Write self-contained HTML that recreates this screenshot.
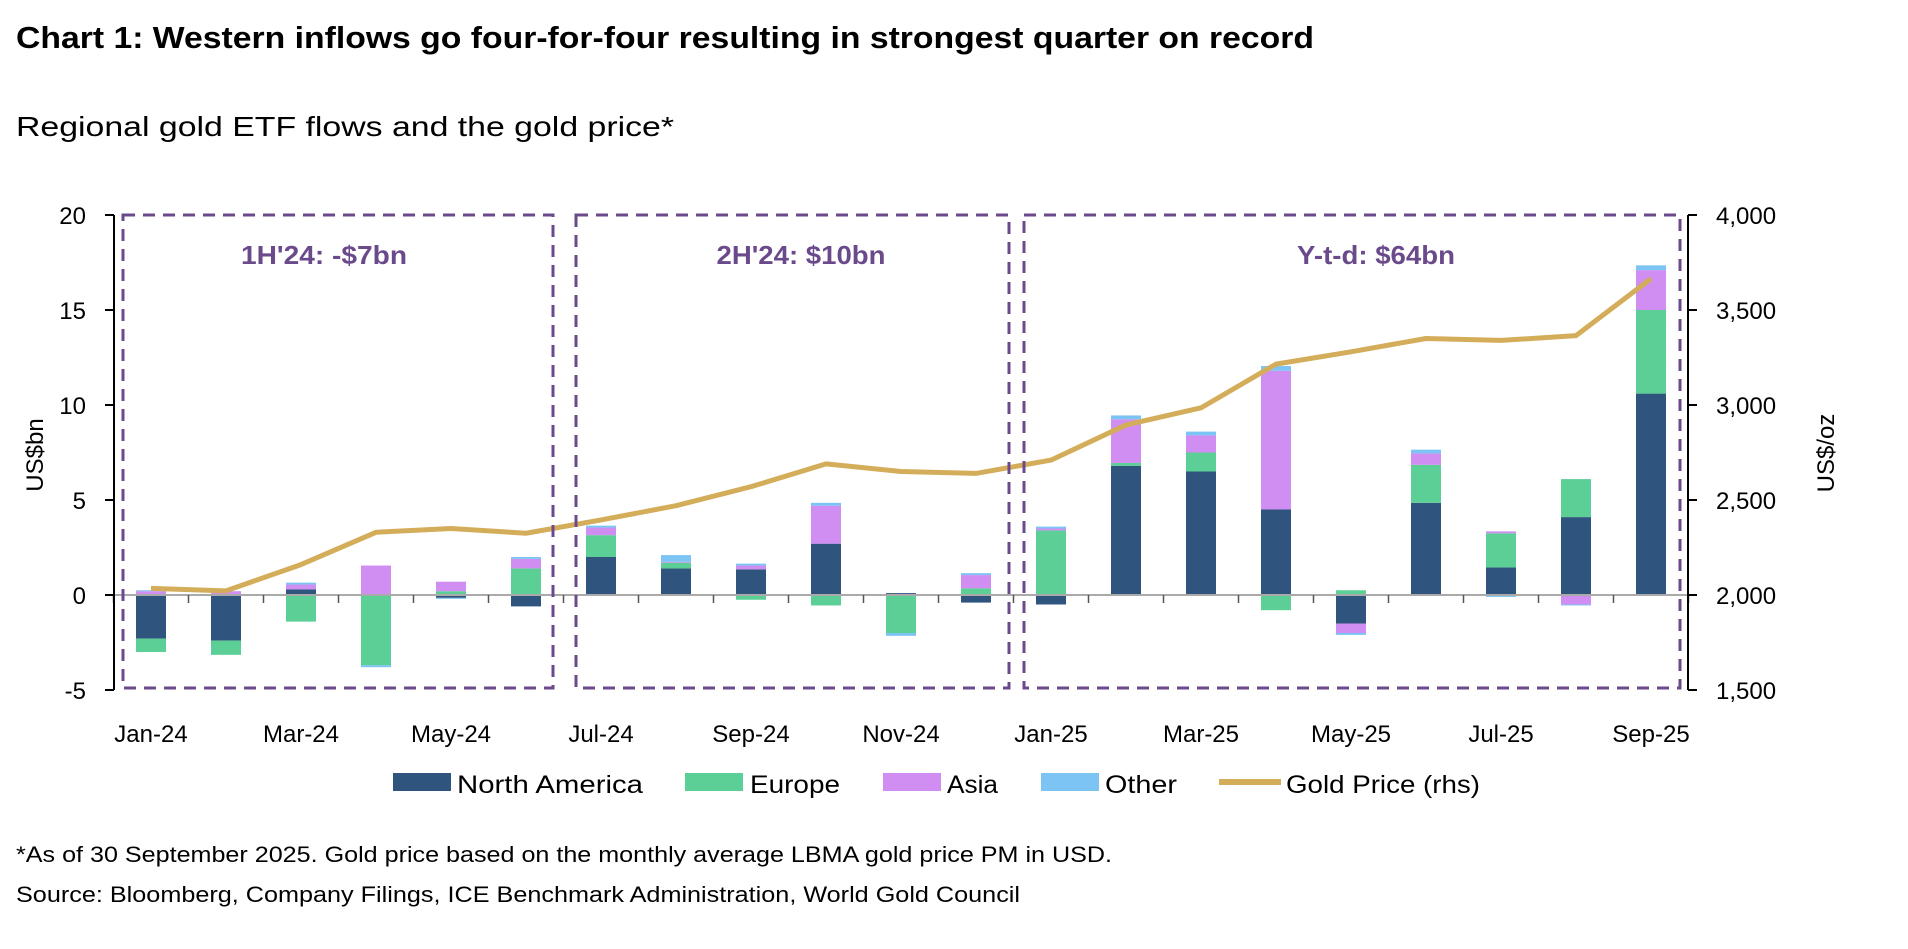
<!DOCTYPE html>
<html><head><meta charset="utf-8"><style>
body{margin:0;background:#fff;width:1908px;height:944px;overflow:hidden;font-family:"Liberation Sans",sans-serif;}
</style></head><body>
<svg width="1908" height="944" viewBox="0 0 1908 944" xmlns="http://www.w3.org/2000/svg" font-family="Liberation Sans, sans-serif">
<text x="16" y="48" font-size="31" font-weight="bold" fill="#000" textLength="1298" lengthAdjust="spacingAndGlyphs">Chart 1: Western inflows go four-for-four resulting in strongest quarter on record</text>
<text x="16" y="136" font-size="28" fill="#000" textLength="658" lengthAdjust="spacingAndGlyphs">Regional gold ETF flows and the gold price*</text>
<g id="chart"></g>
<g font-size="24" fill="#000">
<text x="86" y="224" text-anchor="end">20</text>
<text x="86" y="319" text-anchor="end">15</text>
<text x="86" y="414" text-anchor="end">10</text>
<text x="86" y="509" text-anchor="end">5</text>
<text x="86" y="604" text-anchor="end">0</text>
<text x="86" y="699" text-anchor="end">-5</text>
<text x="1716" y="224">4,000</text>
<text x="1716" y="319">3,500</text>
<text x="1716" y="414">3,000</text>
<text x="1716" y="509">2,500</text>
<text x="1716" y="604">2,000</text>
<text x="1716" y="699">1,500</text>
<text transform="translate(43,455) rotate(-90)" text-anchor="middle">US$bn</text>
<text transform="translate(1834,453) rotate(-90)" text-anchor="middle">US$/oz</text>
</g>
<g font-size="24" fill="#000" text-anchor="middle" id="xl"></g>
<g font-size="26" font-weight="bold" fill="#6b4a8c" text-anchor="middle">
<text x="324" y="264" textLength="166" lengthAdjust="spacingAndGlyphs">1H'24: -$7bn</text>
<text x="801" y="264" textLength="169" lengthAdjust="spacingAndGlyphs">2H'24: $10bn</text>
<text x="1376" y="264" textLength="158" lengthAdjust="spacingAndGlyphs">Y-t-d: $64bn</text>
</g>
<g fill="none" stroke="#6b4a8c" stroke-width="3" stroke-dasharray="12,8">
<rect x="123" y="215" width="430" height="473"/>
<rect x="576" y="215" width="433" height="473"/>
<rect x="1024" y="215" width="656" height="473"/>
</g>
<g font-size="25" fill="#000">
<rect x="393" y="773" width="58" height="18" fill="#2f557f"/><text x="457" y="793" textLength="186" lengthAdjust="spacingAndGlyphs">North America</text>
<rect x="685" y="773" width="58" height="18" fill="#5ccf96"/><text x="750" y="793" textLength="90" lengthAdjust="spacingAndGlyphs">Europe</text>
<rect x="883" y="773" width="58" height="18" fill="#d08ef2"/><text x="947" y="793" textLength="51" lengthAdjust="spacingAndGlyphs">Asia</text>
<rect x="1041" y="773" width="58" height="18" fill="#7cc4f4"/><text x="1105" y="793" textLength="72" lengthAdjust="spacingAndGlyphs">Other</text>
<line x1="1219" y1="782" x2="1281" y2="782" stroke="#d4ad5a" stroke-width="6"/><text x="1286" y="793" textLength="194" lengthAdjust="spacingAndGlyphs">Gold Price (rhs)</text>
</g>
<text x="16" y="862" font-size="22" fill="#000" textLength="1096" lengthAdjust="spacingAndGlyphs">*As of 30 September 2025. Gold price based on the monthly average LBMA gold price PM in USD.</text>
<text x="16" y="902" font-size="22" fill="#000" textLength="1004" lengthAdjust="spacingAndGlyphs">Source: Bloomberg, Company Filings, ICE Benchmark Administration, World Gold Council</text>
</svg>
<script>
const d=[[-2.3,-0.7,0.2,0.05],[-2.4,-0.75,0.2,0],[0.3,-1.4,0.25,0.1],[0.05,-3.7,1.5,-0.1],[-0.15,0.2,0.5,-0.05],[-0.6,1.4,0.5,0.1],
[2.0,1.15,0.4,0.1],[1.4,0.3,0.05,0.35],[1.35,-0.25,0.2,0.1],[2.7,-0.55,2.0,0.15],[0.1,-2.0,0,-0.15],[-0.4,0.35,0.7,0.1],
[-0.5,3.4,0.1,0.1],[6.8,0.15,2.3,0.2],[6.5,1.0,0.9,0.2],[4.5,-0.8,7.3,0.25],[-1.5,0.25,-0.5,-0.1],[4.85,2.0,0.6,0.2],[1.45,1.8,0.1,-0.1],[4.1,2.0,-0.5,-0.05],[10.6,4.4,2.1,0.25]];
const g=[2035,2022,2160,2330,2350,2325,2395,2470,2570,2690,2650,2640,2710,2895,2985,3215,3280,3350,3340,3365,3665];
const col=["#2f557f","#5ccf96","#d08ef2","#7cc4f4"];
const Y=v=>595-v*19, X=i=>151+i*75;
let s='';
d.forEach((r,i)=>{let p=0,n=0;r.forEach((v,k)=>{if(v>=0){s+=`<rect x="${X(i)-15}" y="${Y(p+v)}" width="30" height="${v*19}" fill="${col[k]}"/>`;p+=v;}else{s+=`<rect x="${X(i)-15}" y="${Y(n)}" width="30" height="${-v*19}" fill="${col[k]}"/>`;n+=v;}});});
s+=`<line x1="114" y1="595" x2="1688" y2="595" stroke="#aaa" stroke-width="2"/>`;
for(let i=0;i<=21;i++)s+=`<line x1="${113.5+i*75}" y1="595" x2="${113.5+i*75}" y2="603" stroke="#555" stroke-width="1.5"/>`;
s+=`<line x1="114" y1="215" x2="114" y2="690" stroke="#000" stroke-width="2"/><line x1="1688" y1="215" x2="1688" y2="690" stroke="#000" stroke-width="2"/>`;
for(let k=0;k<6;k++){s+=`<line x1="105" y1="${215+k*95}" x2="114" y2="${215+k*95}" stroke="#000" stroke-width="2"/><line x1="1688" y1="${215+k*95}" x2="1697" y2="${215+k*95}" stroke="#000" stroke-width="2"/>`;}
s+=`<polyline fill="none" stroke="#d4ad5a" stroke-width="5" stroke-linejoin="round" points="${g.map((v,i)=>X(i)+','+Y((v-2000)/100)).join(' ')}"/>`;
document.getElementById('chart').innerHTML=s;
const L=["Jan-24","Mar-24","May-24","Jul-24","Sep-24","Nov-24","Jan-25","Mar-25","May-25","Jul-25","Sep-25"];
document.getElementById('xl').innerHTML=L.map((t,j)=>`<text x="${X(j*2)}" y="742">${t}</text>`).join('');
</script>
</body></html>
